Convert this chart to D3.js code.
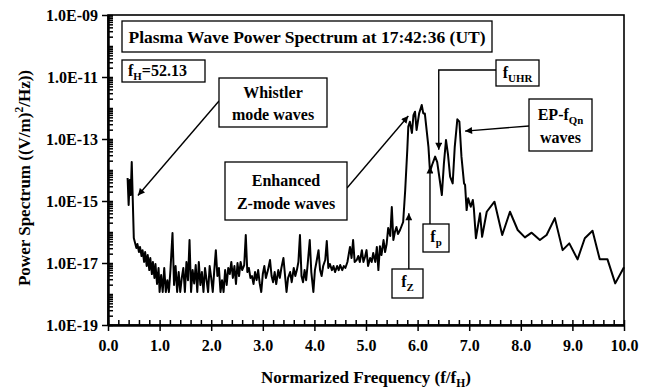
<!DOCTYPE html>
<html>
<head>
<meta charset="utf-8">
<script src="https://cdn.jsdelivr.net/npm/d3@7"></script>
<style>
  body { margin: 0; background: #fff; }
  text { font-family: "Liberation Serif", "Times New Roman", serif; font-weight: bold; fill: #000; }
</style>
</head>
<body>
<svg id="chart" width="649" height="390"></svg>
<script>
// Normalized frequency f/fH of each spectral channel
const freq = [
  0.38, 0.40, 0.42, 0.44, 0.46, 0.48, 0.50, 0.52, 0.55, 0.57,
  0.60, 0.62, 0.65, 0.67, 0.70, 0.72, 0.75, 0.77, 0.80, 0.82,
  0.85, 0.87, 0.90, 0.92, 0.95, 0.98, 1.00, 1.03, 1.06, 1.09,
  1.12, 1.15, 1.18, 1.21, 1.25, 1.28, 1.31, 1.34, 1.37, 1.40,
  1.43, 1.46, 1.49, 1.52, 1.55, 1.58, 1.61, 1.64, 1.67, 1.70,
  1.73, 1.76, 1.79, 1.82, 1.85, 1.88, 1.91, 1.94, 1.97, 2.00,
  2.03, 2.06, 2.09, 2.12, 2.15, 2.18, 2.21, 2.24, 2.27, 2.30,
  2.33, 2.36, 2.39, 2.42, 2.45, 2.48, 2.51, 2.54, 2.57, 2.60,
  2.64, 2.67, 2.70, 2.73, 2.76, 2.79, 2.82, 2.85, 2.88, 2.91,
  2.94, 2.97, 3.00, 3.03, 3.06, 3.10, 3.14, 3.17, 3.20, 3.23,
  3.26, 3.30, 3.33, 3.36, 3.40, 3.43, 3.46, 3.49, 3.53, 3.56,
  3.60, 3.63, 3.66, 3.69, 3.72, 3.75, 3.78, 3.81, 3.84, 3.87,
  3.91, 3.94, 3.98, 4.01, 4.04, 4.08, 4.11, 4.14, 4.17, 4.21,
  4.24, 4.27, 4.30, 4.34, 4.37, 4.40, 4.44, 4.47, 4.50, 4.54,
  4.57, 4.60, 4.64, 4.69, 4.72, 4.75, 4.78, 4.82, 4.85, 4.88,
  4.92, 4.95, 4.98, 5.01, 5.04, 5.08, 5.11, 5.14, 5.18, 5.21,
  5.24, 5.27, 5.30, 5.34, 5.37, 5.40, 5.43, 5.47, 5.50, 5.53,
  5.56, 5.59, 5.62, 5.66, 5.69, 5.72, 5.76, 5.80, 5.82, 5.85,
  5.89, 5.92, 5.95, 5.98, 6.03, 6.08, 6.11, 6.14, 6.21, 6.24,
  6.28, 6.34, 6.38, 6.47, 6.51, 6.55, 6.59, 6.63, 6.68, 6.72,
  6.77, 6.81, 6.85, 6.90, 6.92, 6.95, 6.98, 7.03, 7.07, 7.09,
  7.13, 7.21, 7.25, 7.34, 7.49, 7.64, 7.79, 7.94, 8.08, 8.21,
  8.37, 8.50, 8.66, 8.81, 8.94, 9.10, 9.24, 9.39, 9.53, 9.68,
  9.83, 10.00
];

// Power spectral density, (V/m)^2/Hz
const power = [
  5.5e-15, 7.4e-16, 4.75e-15, 1.56e-15, 1.8e-14, 1.08e-15, 6.4e-17, 4.75e-17, 3.05e-17, 4.1e-17,
  2.26e-17, 3.3e-17, 1.68e-17, 2.6e-17, 1.08e-17, 2.26e-17, 8.0e-18, 1.8e-17, 5.9e-18, 1.45e-17,
  4.4e-18, 1.08e-17, 3.3e-18, 9.3e-18, 2.1e-18, 6.9e-18, 1.16e-18, 4.1e-18, 1.16e-18, 6.9e-18,
  1.16e-18, 2.8e-18, 1.16e-18, 5.9e-18, 9.3e-17, 1.95e-18, 8.0e-18, 1.16e-18, 5.1e-18, 1.16e-18,
  3.3e-18, 6.9e-18, 1.16e-18, 1.08e-17, 2.8e-18, 5.5e-17, 1.16e-18, 5.9e-18, 2.2e-18, 8.6e-18,
  1.16e-18, 1.08e-17, 1.95e-18, 5.1e-18, 1.16e-18, 6.9e-18, 2.8e-18, 1.16e-18, 8.0e-18, 3.3e-18,
  1.16e-18, 5.9e-18, 2.6e-17, 3.8e-18, 6.9e-18, 1.16e-18, 2.8e-18, 1.16e-18, 5.9e-18, 1.95e-18,
  6.9e-18, 4.4e-18, 1.08e-17, 3.3e-18, 8.0e-18, 2.1e-18, 1.0e-17, 3.8e-18, 1.08e-17, 5.9e-18,
  8.6e-18, 8.0e-17, 5.1e-18, 6.9e-18, 3.3e-18, 3.8e-18, 2.1e-18, 5.1e-18, 2.8e-18, 5.9e-18,
  2.2e-18, 1.16e-18, 4.4e-18, 8.0e-18, 3.3e-18, 5.9e-18, 1.25e-17, 3.8e-18, 2.4e-18, 5.1e-18,
  2.1e-18, 5.9e-18, 3.3e-18, 6.9e-18, 1.45e-17, 4.1e-18, 1.16e-18, 3.3e-18, 5.1e-18, 2.4e-18,
  6.9e-18, 3.8e-18, 5.9e-18, 1.08e-17, 8.0e-17, 3.8e-18, 2.4e-18, 5.9e-18, 2.8e-18, 9.3e-18,
  5.5e-17, 5.1e-18, 1.16e-18, 5.9e-18, 1.08e-17, 2.6e-17, 5.9e-18, 3.8e-18, 8.0e-18, 1.25e-17,
  5.1e-17, 6.9e-18, 9.3e-18, 5.9e-18, 8.0e-18, 5.1e-18, 8.0e-18, 5.9e-18, 8.6e-18, 5.9e-18,
  8.0e-18, 6.9e-18, 1.08e-17, 3.3e-17, 1.45e-17, 5.5e-17, 1.08e-17, 1.25e-17, 1.68e-17, 1.08e-17,
  2.6e-17, 1.08e-17, 1.56e-17, 2.6e-17, 8.0e-18, 1.45e-17, 1.08e-17, 2.1e-17, 1.08e-17, 3.3e-17,
  5.9e-18, 3.5e-17, 1.8e-17, 5.5e-17, 2.26e-17, 4.1e-17, 1.35e-16, 7.4e-17, 6.4e-16, 5.5e-17,
  1.0e-16, 1.45e-16, 8.6e-17, 1.16e-16, 1.56e-16, 2.1e-16, 2.26e-15, 4.4e-14, 2.5e-13, 3.6e-13,
  1.56e-13, 5.9e-13, 7.6e-13, 1.95e-13, 6.7e-13, 1.25e-12, 6.7e-13, 6.7e-13, 5.6e-14, 8.8e-15,
  1.45e-14, 2.7e-14, 1.8e-14, 1.56e-15, 1.64e-14, 9.3e-14, 3.05e-14, 6.1e-15, 3.7e-15, 5.6e-14,
  4.3e-13, 3.6e-13, 2.7e-14, 3.7e-15, 3.3e-15, 5.1e-16, 1.22e-15, 6.5e-16, 1.08e-15, 5.8e-16,
  6.3e-17, 4.0e-16, 7.0e-17, 4.5e-16, 9.5e-16, 8.0e-17, 4.5e-16, 1.16e-16, 6.7e-17, 9.5e-17,
  5.5e-17, 8.0e-17, 2.8e-16, 2.6e-17, 4.3e-17, 1.31e-17, 6.3e-17, 1.1e-16, 1.31e-17, 1.31e-17,
  2.2e-18, 7.3e-18
];

// Axis ticks
const xMajorTicks = [0, 1, 2, 3, 4, 5, 6, 7, 8, 9, 10];
const yMajorTicks = [1e-19, 1e-17, 1e-15, 1e-13, 1e-11, 1e-9];

const svg = d3.select("#chart");
const plot = { left: 108, right: 624, top: 15, bottom: 325 };

const x = d3.scaleLinear().domain([0, 10]).range([plot.left, plot.right]);
const y = d3.scaleLog().domain([1e-19, 1e-9]).range([plot.bottom, plot.top]);

// Minor ticks: every 0.2 on x, 1..9 per decade on y
const xMinorTicks = d3.range(0, 10.0001, 0.2);
const yMinorTicks = [];
for (let e = -19; e < -9; e++) {
  for (let m = 1; m <= 9; m++) yMinorTicks.push(m * Math.pow(10, e));
}
yMinorTicks.push(1e-9);

const yFmt = d => {
  const e = Math.round(Math.log10(d));
  return "1.0E-" + String(-e).padStart(2, "0");
};

// Frame around the plot area
svg.append("rect")
  .attr("x", plot.left).attr("y", plot.top)
  .attr("width", plot.right - plot.left).attr("height", plot.bottom - plot.top)
  .attr("fill", "none").attr("stroke", "#000").attr("stroke-width", 1.6);

// Y axis: inward minor ticks, then outward labelled major ticks
const yIn = svg.append("g").attr("transform", `translate(${plot.left},0)`)
  .call(d3.axisLeft(y).tickValues(yMinorTicks).tickSize(-5).tickSizeOuter(0).tickFormat(""));
const yOut = svg.append("g").attr("transform", `translate(${plot.left},0)`)
  .call(d3.axisLeft(y).tickValues(yMajorTicks).tickSize(6).tickSizeOuter(0).tickPadding(4).tickFormat(yFmt));

// X axis
const xIn = svg.append("g").attr("transform", `translate(0,${plot.bottom})`)
  .call(d3.axisBottom(x).tickValues(xMinorTicks).tickSize(-5).tickSizeOuter(0).tickFormat(""));
const xOut = svg.append("g").attr("transform", `translate(0,${plot.bottom})`)
  .call(d3.axisBottom(x).tickValues(xMajorTicks).tickSize(6).tickSizeOuter(0).tickPadding(9).tickFormat(d3.format(".1f")));

[yIn, yOut, xIn, xOut].forEach(g => {
  g.select(".domain").attr("stroke", "#000").attr("stroke-width", 2);
  g.selectAll(".tick line").attr("stroke", "#000").attr("stroke-width", 1.5);
  g.selectAll("text").attr("fill", "#000")
    .style("font-family", '"Liberation Serif", serif')
    .style("font-weight", "bold").style("font-size", "16px");
});

// Spectrum line
const spectrum = d3.zip(freq, power).map(([f, p]) => ({ f, p }));
svg.append("path")
  .datum(spectrum)
  .attr("fill", "none").attr("stroke", "#000").attr("stroke-width", 2)
  .attr("stroke-linejoin", "round")
  .attr("d", d3.line().x(d => x(d.f)).y(d => y(d.p)));

// Helper: text with sub/superscript parts
function richText(g, parts, xPos, yPos, size, anchor) {
  const t = g.append("text").attr("x", xPos).attr("y", yPos)
    .attr("text-anchor", anchor || "middle").style("font-size", size + "px");
  parts.forEach(p => {
    const s = t.append("tspan").text(p.t);
    if (p.sub) s.attr("dy", size * 0.22).style("font-size", (size * 0.68) + "px");
    if (p.sup) s.attr("dy", -size * 0.4).style("font-size", (size * 0.68) + "px");
    if (p.back) s.attr("dy", p.back);
  });
  return t;
}

function box(xPos, yPos, w, h) {
  svg.append("rect").attr("x", xPos).attr("y", yPos).attr("width", w).attr("height", h)
    .attr("fill", "#fff").attr("stroke", "#000").attr("stroke-width", 1.3);
}

// Axis titles
const yTitle = svg.append("g").attr("transform", "translate(30,178) rotate(-90)");
richText(yTitle, [
  { t: "Power Spectrum ((V/m)" }, { t: "2", sup: true }, { t: "/Hz))", back: 17 * 0.4 }
], 0, 0, 17);

richText(svg, [
  { t: "Normarized Frequency (f/f" }, { t: "H", sub: true }, { t: ")", back: -17 * 0.22 }
], 366, 383, 17);

// Arrow marker
svg.append("defs").append("marker")
  .attr("id", "head").attr("viewBox", "0 0 10 10")
  .attr("refX", 10).attr("refY", 5)
  .attr("markerUnits", "userSpaceOnUse")
  .attr("markerWidth", 8).attr("markerHeight", 7)
  .attr("orient", "auto")
  .append("path").attr("d", "M0,0 L10,5 L0,10 Z").attr("fill", "#000");

function arrow(points) {
  svg.append("path")
    .attr("d", d3.line()(points))
    .attr("fill", "none").attr("stroke", "#000").attr("stroke-width", 1.4)
    .attr("marker-end", "url(#head)");
}

// Title and fH boxes
box(122, 21, 370, 31);
richText(svg, [{ t: "Plasma Wave Power Spectrum at 17:42:36 (UT)" }], 307, 42.5, 17.5);
box(122, 60, 83, 22);
richText(svg, [{ t: "f" }, { t: "H", sub: true }, { t: "=52.13", back: -16 * 0.22 }], 128, 76, 16, "start");

// Whistler mode annotation
arrow([[219, 101], [x(0.58), y(1.5e-15)]]);
box(219, 78, 108, 49);
richText(svg, [{ t: "Whistler" }], 273, 98, 16);
richText(svg, [{ t: "mode waves" }], 273, 120, 16);

// Enhanced Z-mode annotation
arrow([[347, 188], [x(5.82), y(5.5e-13)]]);
box(225, 162, 122, 58);
richText(svg, [{ t: "Enhanced" }], 286, 186, 16);
richText(svg, [{ t: "Z-mode waves" }], 286, 209, 16);

// f_UHR annotation
arrow([[496, 70], [x(6.41), 70], [x(6.41), y(4.5e-14)]]);
box(496, 60, 43, 26);
richText(svg, [{ t: "f" }, { t: "UHR", sub: true }], 517.5, 78, 16);

// EP-f_Qn annotation
arrow([[529, 126], [x(6.92), y(1.8e-13)]]);
box(529, 99, 63, 52);
richText(svg, [{ t: "EP-f" }, { t: "Qn", sub: true }], 560.5, 120, 16);
richText(svg, [{ t: "waves" }], 560.5, 143, 16);

// f_p annotation
arrow([[x(6.24), 224], [x(6.24), y(1.3e-14)]]);
box(423, 224, 26, 28);
richText(svg, [{ t: "f" }, { t: "p", sub: true }], 436, 242, 16);

// f_Z annotation
arrow([[x(5.83), 269], [x(5.83), y(4.0e-16)]]);
box(392, 269, 31, 29);
richText(svg, [{ t: "f" }, { t: "Z", sub: true }], 407.5, 287, 16);
</script>
</body>
</html>
